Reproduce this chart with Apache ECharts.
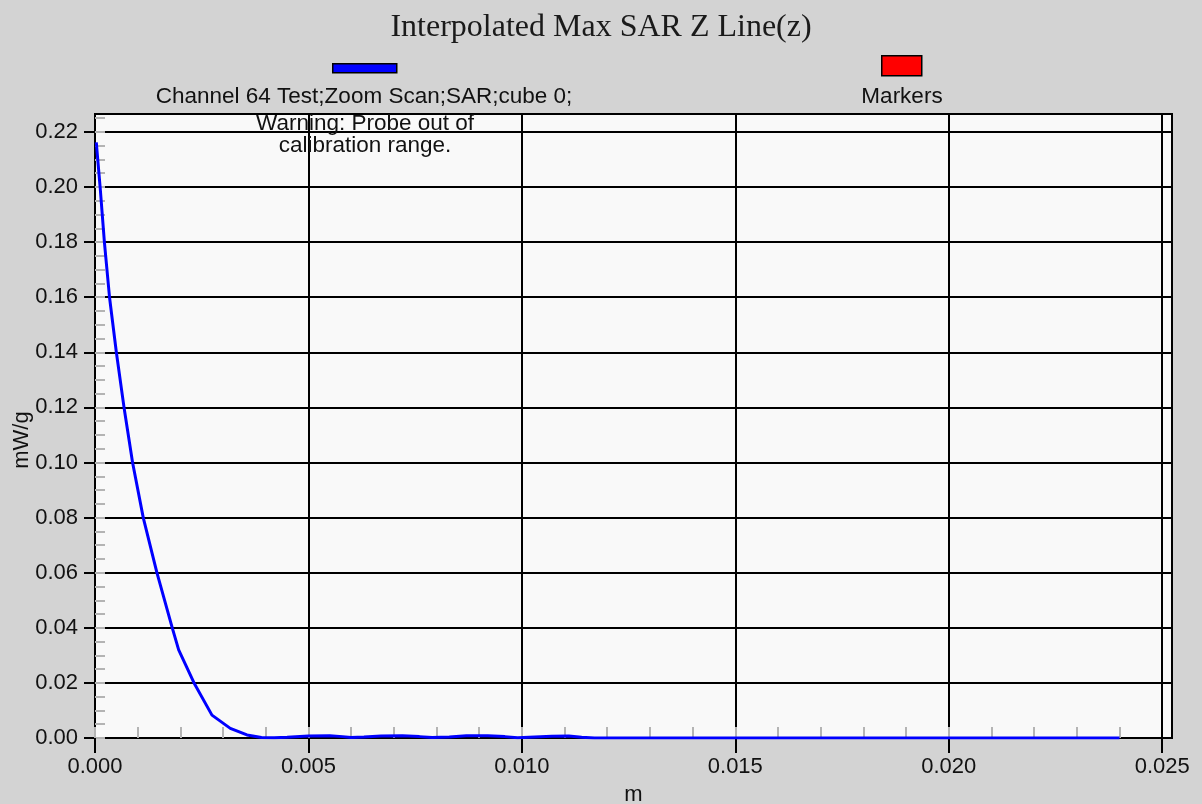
<!DOCTYPE html>
<html>
<head>
<meta charset="utf-8">
<script src="https://cdn.jsdelivr.net/npm/echarts@6/dist/echarts.min.js"></script>
<style>
html,body{margin:0;padding:0;background:#d3d3d3;}
#c{width:1202px;height:804px;}
</style>
</head>
<body>
<div id="c"></div>
<script>
// ---- data ----
const titleText = 'Interpolated Max SAR Z Line(z)';
const seriesName = 'Channel 64 Test;Zoom Scan;SAR;cube 0;';
const warningLines = ['Warning: Probe out of', 'calibration range.'];
const markersName = 'Markers';
const xName = 'm';
const yName = 'mW/g';

// distance along z (m)
const zPos = [0.00003, 0.00012, 0.00022, 0.00034, 0.00050, 0.00068, 0.00088, 0.00113,
  0.00145, 0.00181, 0.00196, 0.00232, 0.00274, 0.00317, 0.00356, 0.00390, 0.00420,
  0.00450, 0.00500, 0.00550, 0.00580, 0.00600, 0.00630, 0.00670, 0.00720, 0.00760,
  0.00790, 0.00830, 0.00870, 0.00920, 0.00960, 0.00990, 0.01030, 0.01070, 0.01110,
  0.01140, 0.01170, 0.01500, 0.02000, 0.02400];
// SAR (mW/g)
const sarVal = [0.2162, 0.2000, 0.1800, 0.1600, 0.1400, 0.1200, 0.1000, 0.0800,
  0.0600, 0.0400, 0.0320, 0.0200, 0.0083, 0.0035, 0.0011, 0.0002, 0.0001,
  0.0003, 0.0007, 0.0008, 0.0005, 0.0002, 0.0004, 0.0007, 0.0008, 0.0005,
  0.0002, 0.0004, 0.0008, 0.0008, 0.0005, 0.0001, 0.0004, 0.0006, 0.0007,
  0.0003, 0.0000, 0.0000, 0.0000, 0.0000];

const xMajorTicks = [0, 0.005, 0.010, 0.015, 0.020, 0.025];
const yMajorTicks = [0, 0.02, 0.04, 0.06, 0.08, 0.10, 0.12, 0.14, 0.16, 0.18, 0.20, 0.22];
const xMinorStep = 0.001;
const yMinorStep = 0.005;
const xMax = 0.02523;
const yMax = 0.2265;

// ---- build chart ----
function steps(step, max) {
  const out = [];
  for (let i = 0; i * step <= max + 1e-12; i++) out.push(+(i * step).toFixed(6));
  return out;
}
const xMinorTicks = steps(xMinorStep, 0.0245);
const yMinorTicks = steps(yMinorStep, 0.2255);

const data = zPos.map((z, i) => [z, sarVal[i]]);
const sans = 'Liberation Sans';
const txtColor = '#111111';
const legendFont = '22.5px "Liberation Sans"';

const chart = echarts.init(document.getElementById('c'), null, {renderer: 'canvas'});
chart.setOption({
  animation: false,
  backgroundColor: '#d3d3d3',
  title: {
    text: titleText,
    left: 'center',
    top: 7,
    textStyle: {fontFamily: 'Liberation Serif', fontWeight: 'normal', fontSize: 32, color: '#1a1a1a'}
  },
  grid: {
    left: 95, right: 30, top: 114, bottom: 66,
    outerBoundsMode: 'none', containLabel: false,
    show: true, backgroundColor: '#f9f9f9', borderColor: '#000', borderWidth: 2
  },
  xAxis: [{
    type: 'value', min: 0, max: xMax, interval: 0.005,
    name: xName, nameLocation: 'middle', nameGap: 46, nameMoveOverlap: false,
    nameTextStyle: {fontFamily: sans, fontSize: 22, color: txtColor},
    axisLine: {show: true, onZero: false, lineStyle: {color: '#000', width: 2}},
    axisTick: {show: true, inside: false, length: 15, customValues: xMajorTicks, lineStyle: {color: '#000', width: 2}},
    axisLabel: {customValues: xMajorTicks, margin: 18, fontFamily: sans, fontSize: 22, color: txtColor,
      formatter: v => v.toFixed(3)},
    splitLine: {show: true, lineStyle: {color: '#000', width: 2}}
  }, {
    type: 'value', min: 0, max: xMax, position: 'bottom',
    axisLine: {show: false}, axisLabel: {show: false}, splitLine: {show: false},
    axisTick: {show: true, inside: true, length: 11, customValues: xMinorTicks, lineStyle: {color: '#b4b4b4', width: 2}}
  }],
  yAxis: [{
    type: 'value', min: 0, max: yMax, interval: 0.02,
    name: yName, nameLocation: 'middle', nameGap: 62, nameMoveOverlap: false,
    nameTextStyle: {fontFamily: sans, fontSize: 22, color: txtColor, padding: [0, 28, 0, 0]},
    axisLine: {show: true, onZero: false, lineStyle: {color: '#000', width: 2}},
    axisTick: {show: true, inside: false, length: 11, customValues: yMajorTicks, lineStyle: {color: '#000', width: 2}},
    axisLabel: {customValues: yMajorTicks, margin: 17, fontFamily: sans, fontSize: 22, color: txtColor,
      formatter: v => v.toFixed(2)},
    splitLine: {show: true, lineStyle: {color: '#000', width: 2}}
  }, {
    type: 'value', min: 0, max: yMax, position: 'left',
    axisLine: {show: false}, axisLabel: {show: false}, splitLine: {show: false},
    axisTick: {show: true, inside: true, length: 10, customValues: yMinorTicks, lineStyle: {color: '#b4b4b4', width: 2}}
  }],
  series: [{
    name: seriesName,
    type: 'line',
    xAxisIndex: 0, yAxisIndex: 0,
    data: data,
    showSymbol: false,
    smooth: false,
    clip: true,
    z: 10,
    lineStyle: {color: '#0000ff', width: 3}
  }],
  graphic: [
    {type: 'rect', left: 332, top: 63, shape: {width: 64, height: 9},
      style: {fill: '#0000ff', stroke: '#000', lineWidth: 1.5}, z: 100},
    {type: 'text', x: 364, y: 97, style: {text: seriesName, font: legendFont, fill: txtColor,
      align: 'center', verticalAlign: 'middle'}, z: 100},
    {type: 'text', x: 365, y: 124, style: {text: warningLines[0], font: legendFont, fill: txtColor,
      align: 'center', verticalAlign: 'middle'}, z: 100},
    {type: 'text', x: 365, y: 146, style: {text: warningLines[1], font: legendFont, fill: txtColor,
      align: 'center', verticalAlign: 'middle'}, z: 100},
    {type: 'rect', left: 881, top: 55, shape: {width: 40, height: 20},
      style: {fill: '#ff0000', stroke: '#000', lineWidth: 1.5}, z: 100},
    {type: 'text', x: 902, y: 97, style: {text: markersName, font: legendFont, fill: txtColor,
      align: 'center', verticalAlign: 'middle'}, z: 100}
  ]
});
</script>
</body>
</html>
